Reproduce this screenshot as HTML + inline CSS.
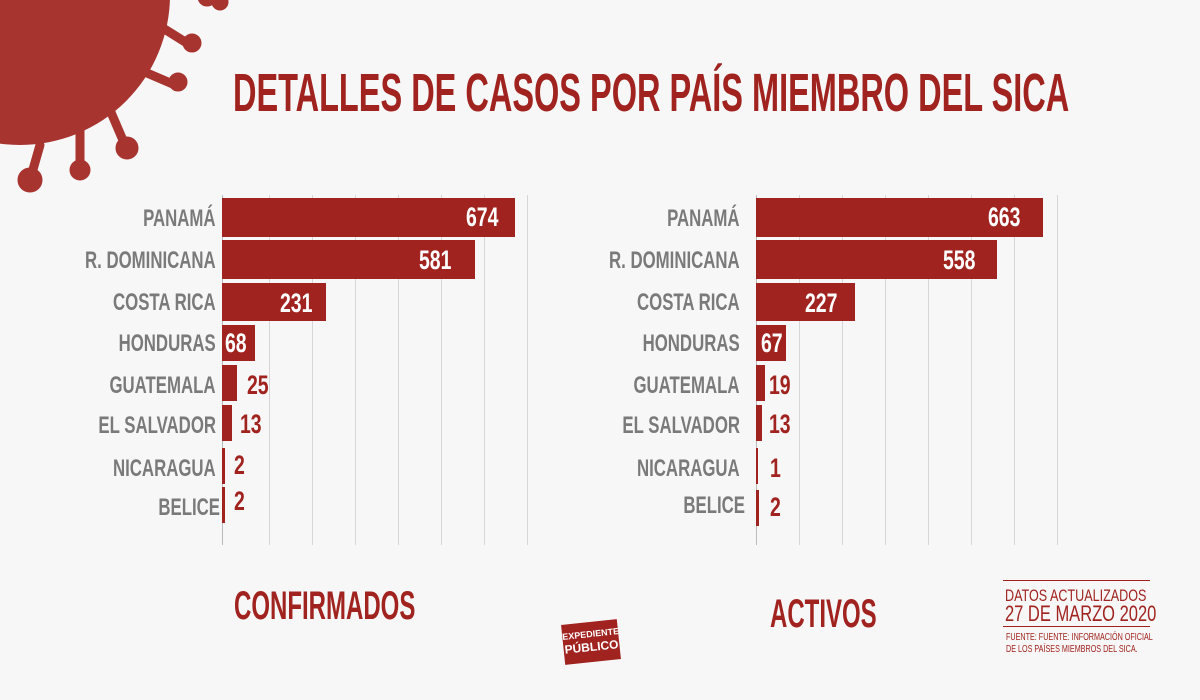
<!DOCTYPE html>
<html><head><style>
body{margin:0;width:1200px;height:700px;background:#f7f7f7;overflow:hidden;position:relative;font-family:"Liberation Sans",sans-serif}
.t{position:absolute;white-space:nowrap;transform-origin:0 0;font-weight:bold}
.lab{position:absolute;white-space:nowrap;color:#7a7a7a;font-weight:bold;font-size:24px;transform:scaleX(.7);transform-origin:100% 0;text-align:right}
.val{position:absolute;white-space:nowrap;font-weight:bold;font-size:27px;transform:scaleX(.72);transform-origin:0 0}
.bar{position:absolute;background:#a0231f}
.g{position:absolute;width:1px;background:#d6d6d6;top:195px;height:350px}
</style></head><body>
<svg width="240" height="200" style="position:absolute;left:0;top:0">
<g fill="#a83430" stroke="#a83430">
<circle cx="20" cy="-5" r="150" stroke="none"/>
<g stroke-width="9" stroke-linecap="round">
<line x1="150" y1="20" x2="190" y2="45"/><line x1="165" y1="-10" x2="205" y2="-5"/>
<line x1="140" y1="70" x2="175" y2="85"/><line x1="110" y1="110" x2="125" y2="145"/>
<line x1="80" y1="130" x2="80" y2="165"/><line x1="40" y1="145" x2="30" y2="180"/>
</g>
<circle cx="192" cy="43" r="9"/><circle cx="207" cy="-3" r="9"/><circle cx="178" cy="82" r="9"/>
<circle cx="127" cy="148" r="11"/><circle cx="80" cy="170" r="10"/><circle cx="30" cy="180" r="12"/>
<circle cx="220" cy="2" r="8"/>
</g></svg>
<div class="t" style="left:233px;top:62px;font-size:54px;color:#a0231f;transform:scaleX(.602)">DETALLES DE CASOS POR PAÍS MIEMBRO DEL SICA</div>

<div class="g" style="left:222px;background:#bbb"></div>
<div class="g" style="left:269px"></div><div class="g" style="left:312px"></div><div class="g" style="left:355px"></div><div class="g" style="left:398px"></div><div class="g" style="left:441px"></div><div class="g" style="left:484px"></div><div class="g" style="left:527px"></div>
<div class="g" style="left:756px;background:#bbb"></div>
<div class="g" style="left:799px"></div><div class="g" style="left:842px"></div><div class="g" style="left:885px"></div><div class="g" style="left:928px"></div><div class="g" style="left:971px"></div><div class="g" style="left:1014px"></div><div class="g" style="left:1057px"></div>

<!-- left -->
<div class="bar" style="left:222px;top:198px;width:293px;height:39px"></div>
<div class="bar" style="left:222px;top:240px;width:253px;height:39px"></div>
<div class="bar" style="left:222px;top:283px;width:104px;height:38px"></div>
<div class="bar" style="left:222px;top:325px;width:33px;height:36px"></div>
<div class="bar" style="left:222px;top:365px;width:15px;height:36px"></div>
<div class="bar" style="left:222px;top:405px;width:10px;height:36px"></div>
<div class="bar" style="left:222px;top:448px;width:3px;height:36px"></div>
<div class="bar" style="left:222px;top:487px;width:3px;height:36px"></div>
<div class="lab" style="right:984px;top:205px">PANAMÁ</div>
<div class="lab" style="right:984px;top:247px">R. DOMINICANA</div>
<div class="lab" style="right:984px;top:289px">COSTA RICA</div>
<div class="lab" style="right:984px;top:330px">HONDURAS</div>
<div class="lab" style="right:984px;top:372px">GUATEMALA</div>
<div class="lab" style="right:984px;top:412px">EL SALVADOR</div>
<div class="lab" style="right:984px;top:455px">NICARAGUA</div>
<div class="lab" style="right:980px;top:494px">BELICE</div>
<div class="val" style="left:466px;top:202px;color:#fff">674</div>
<div class="val" style="left:419px;top:245px;color:#fff">581</div>
<div class="val" style="left:280px;top:288px;color:#fff">231</div>
<div class="val" style="left:225px;top:328px;color:#fff">68</div>
<div class="val" style="left:247px;top:370px;color:#a0231f">25</div>
<div class="val" style="left:240px;top:409px;color:#a0231f">13</div>
<div class="val" style="left:234px;top:450px;color:#a0231f">2</div>
<div class="val" style="left:234px;top:486px;color:#a0231f">2</div>

<!-- right -->
<div class="bar" style="left:756px;top:198px;width:287px;height:39px"></div>
<div class="bar" style="left:756px;top:240px;width:241px;height:39px"></div>
<div class="bar" style="left:756px;top:283px;width:99px;height:38px"></div>
<div class="bar" style="left:756px;top:325px;width:30px;height:36px"></div>
<div class="bar" style="left:756px;top:365px;width:9px;height:36px"></div>
<div class="bar" style="left:756px;top:405px;width:6px;height:36px"></div>
<div class="bar" style="left:756px;top:448px;width:2px;height:36px"></div>
<div class="bar" style="left:756px;top:490px;width:3px;height:36px"></div>
<div class="lab" style="right:460px;top:205px">PANAMÁ</div>
<div class="lab" style="right:460px;top:247px">R. DOMINICANA</div>
<div class="lab" style="right:460px;top:289px">COSTA RICA</div>
<div class="lab" style="right:460px;top:330px">HONDURAS</div>
<div class="lab" style="right:460px;top:372px">GUATEMALA</div>
<div class="lab" style="right:460px;top:412px">EL SALVADOR</div>
<div class="lab" style="right:460px;top:455px">NICARAGUA</div>
<div class="lab" style="right:455px;top:492px">BELICE</div>
<div class="val" style="left:988px;top:202px;color:#fff">663</div>
<div class="val" style="left:943px;top:245px;color:#fff">558</div>
<div class="val" style="left:805px;top:288px;color:#fff">227</div>
<div class="val" style="left:761px;top:328px;color:#fff">67</div>
<div class="val" style="left:769px;top:370px;color:#a0231f">19</div>
<div class="val" style="left:769px;top:409px;color:#a0231f">13</div>
<div class="val" style="left:770px;top:453px;color:#a0231f">1</div>
<div class="val" style="left:770px;top:492px;color:#a0231f">2</div>

<div class="t" style="left:234px;top:584px;font-size:40px;color:#a0231f;transform:scaleX(.6)">CONFIRMADOS</div>
<div class="t" style="left:770px;top:592px;font-size:40px;color:#a0231f;transform:scaleX(.6)">ACTIVOS</div>

<div style="position:absolute;left:1003px;top:580px;width:147px;height:1px;background:#a0231f"></div>
<div class="t" style="left:1005px;top:586px;font-size:17px;font-weight:normal;color:#a0231f;transform:scaleX(.74)">DATOS ACTUALIZADOS</div>
<div class="t" style="left:1005px;top:601px;font-size:22px;font-weight:normal;color:#a0231f;transform:scaleX(.75)">27 DE MARZO 2020</div>
<div style="position:absolute;left:1003px;top:626px;width:147px;height:1px;background:#a0231f"></div>
<div class="t" style="left:1006px;top:632px;font-size:10px;font-weight:normal;color:#a0231f;transform:scaleX(.72)">FUENTE: FUENTE: INFORMACIÓN OFICIAL</div>
<div class="t" style="left:1006px;top:644px;font-size:10px;font-weight:normal;color:#a0231f;transform:scaleX(.72)">DE LOS PAÍSES MIEMBROS DEL SICA.</div>

<div style="position:absolute;left:563px;top:622px;width:56px;height:40px;background:#a0231f;transform:rotate(-6deg);color:#fff;font-size:9px;font-weight:bold;text-align:center;line-height:13px;padding-top:6px;box-sizing:border-box;overflow:hidden">EXPEDIENTE<br><span style="font-size:12px">PÚBLICO</span></div>
</body></html>
